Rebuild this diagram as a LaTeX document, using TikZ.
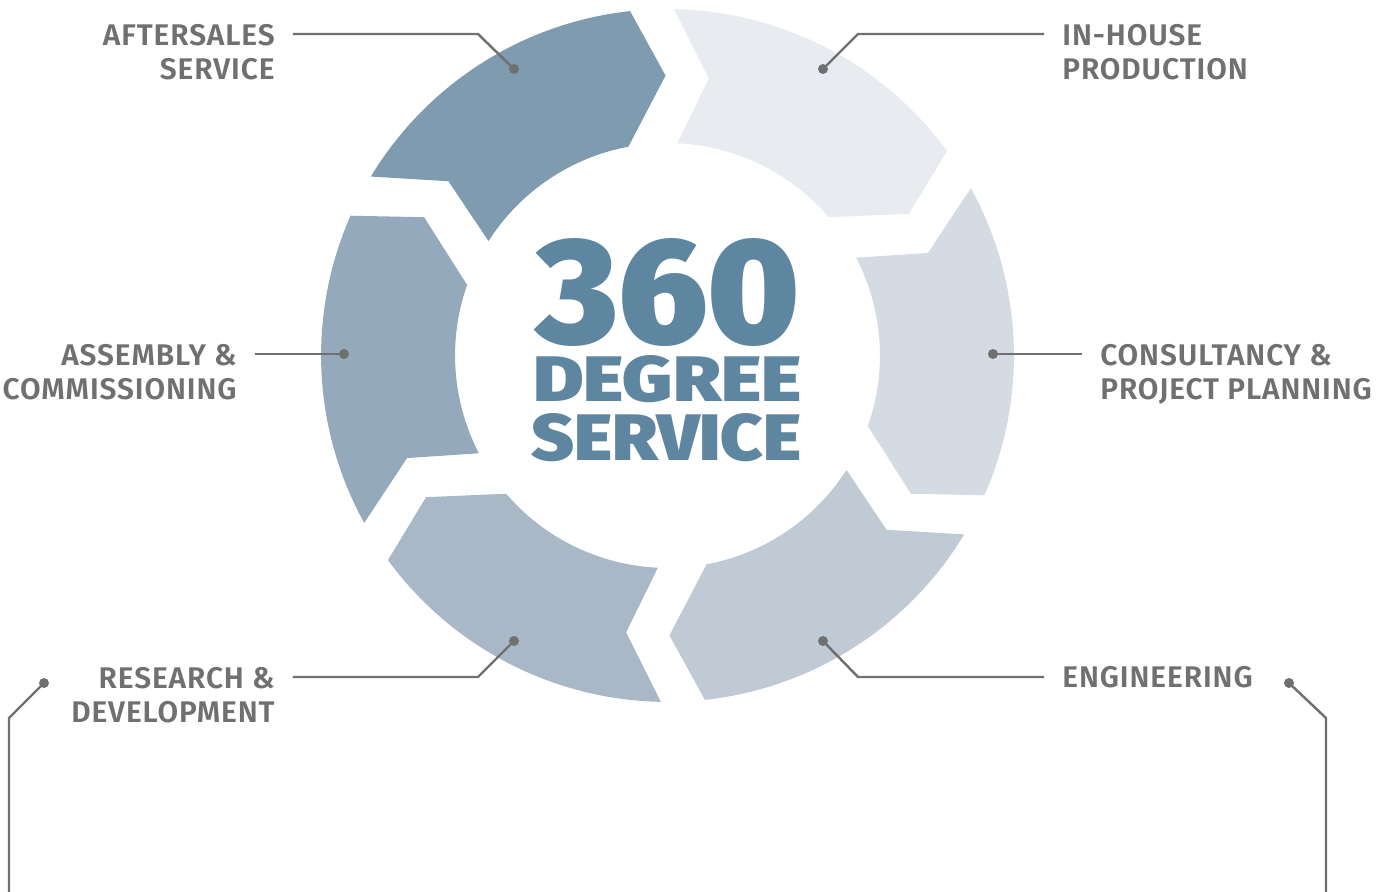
\documentclass[tikz,border=0pt]{standalone}
\usepackage{fontspec}
\setmainfont{Fira Sans}[UprightFont=* SemiBold,LetterSpace=3]
\newfontfamily\heavyfont{Fira Sans}[UprightFont=* Black]
\usepackage{graphicx}
\usetikzlibrary{positioning,calc}
\definecolor{segA}{HTML}{7F9BB0}
\definecolor{segB}{HTML}{E8ECF1}
\definecolor{segC}{HTML}{D4DBE3}
\definecolor{segD}{HTML}{BFCAD5}
\definecolor{segE}{HTML}{A9B8C7}
\definecolor{segF}{HTML}{94A9BB}
\definecolor{txtgray}{HTML}{707070}
\definecolor{titleblue}{HTML}{5F86A0}

\begin{document}
\begin{tikzpicture}
[x=0.02cm,y=0.02cm,
   lbl/.style={font=\fontsize{17}{19.9}\selectfont,text=txtgray,inner sep=0pt},
   dot/.style={circle,fill=txtgray,inner sep=0pt,minimum size=0.2cm},
   lead/.style={draw=txtgray,line width=1.4pt},
   big/.style={inner sep=0pt,text=titleblue,anchor=north west}]
\useasboundingbox (-667.5,-536.5) rectangle (729.5,355.5);
\foreach \t/\c in {90/segA,30/segB,-30/segC,-90/segD,-150/segE,150/segF}
  \fill[\c] (\t+58.9:6.93cm) arc[start angle=\t+58.9,end angle=\t+6.2,radius=6.93cm]
     -- (\t+0.4:5.6cm) -- (\t+10.6:4.25cm)
     arc[start angle=\t+10.6,end angle=\t+57.4,radius=4.25cm] -- (\t+51.5:5.6cm) -- cycle;

\node[big] (n360) at (-131.5,117.5) {\resizebox{5.28cm}{2.1cm}{\heavyfont 360}};
\node[big] (ndeg) at (-134.5,0.5) {\resizebox{5.36cm}{0.92cm}{\heavyfont DEGREE}};
\node[big] (nserv) at (-136.5,-57.5) {\resizebox{5.40cm}{0.94cm}{\heavyfont SERVICE}};

\node[dot] (aft) at (-153.5,286.5) {};
\node[dot] (inh) at (155.5,286.5) {};
\node[dot] (con) at (325.5,1.5) {};
\node[dot] (asm) at (-323.5,1.5) {};
\node[dot] (res) at (-153.5,-285.5) {};
\node[dot] (eng) at (155.5,-285.5) {};
\node[dot] (lft) at (-623.5,-327.5) {};
\node[dot] (rgt) at (621.5,-327.5) {};

\node[lbl,anchor=base east,align=right] (aftlbl) at (-392.5,275.5) {AFTERSALES\\SERVICE};
\node[lbl,anchor=base west,align=left] (inhlbl) at (394.5,275.5) {IN-HOUSE\\PRODUCTION};
\node[lbl,anchor=base west,align=left] (conlbl) at (432.5,-44.5) {CONSULTANCY \&\\PROJECT PLANNING};
\node[lbl,anchor=base east,align=right] (asmlbl) at (-430.5,-44.5) {ASSEMBLY \&\\COMMISSIONING};
\node[lbl,anchor=base east,align=right] (reslbl) at (-392.5,-367.5) {RESEARCH \&\\DEVELOPMENT};
\node[lbl,anchor=base west,align=left] (englbl) at (394.5,-332.5) {ENGINEERING};

\coordinate (afte) at (-374.5,321.5);
\coordinate (inhe) at (376.5,321.5);
\coordinate (cone) at (414.5,1.5);
\coordinate (asme) at (-412.5,1.5);
\coordinate (rese) at (-374.5,-321.5);
\coordinate (enge) at (376.5,-321.5);
\coordinate (lfte) at (-658.5,-536.5);
\coordinate (rgte) at (658.5,-536.5);

\draw[lead] (aft.center) -- ++(-36,35) -- (afte);
\draw[lead] (inh.center) -- ++(35,35) -- (inhe);
\draw[lead] (con.center) -- (cone);
\draw[lead] (asm.center) -- (asme);
\draw[lead] (res.center) -- ++(-36,-36) -- (rese);
\draw[lead] (eng.center) -- ++(35,-36) -- (enge);
\draw[lead] (lft.center) -- ++(-35,-35) -- (lfte);
\draw[lead] (rgt.center) -- ++(37,-35) -- (rgte);
\end{tikzpicture}
\end{document}
